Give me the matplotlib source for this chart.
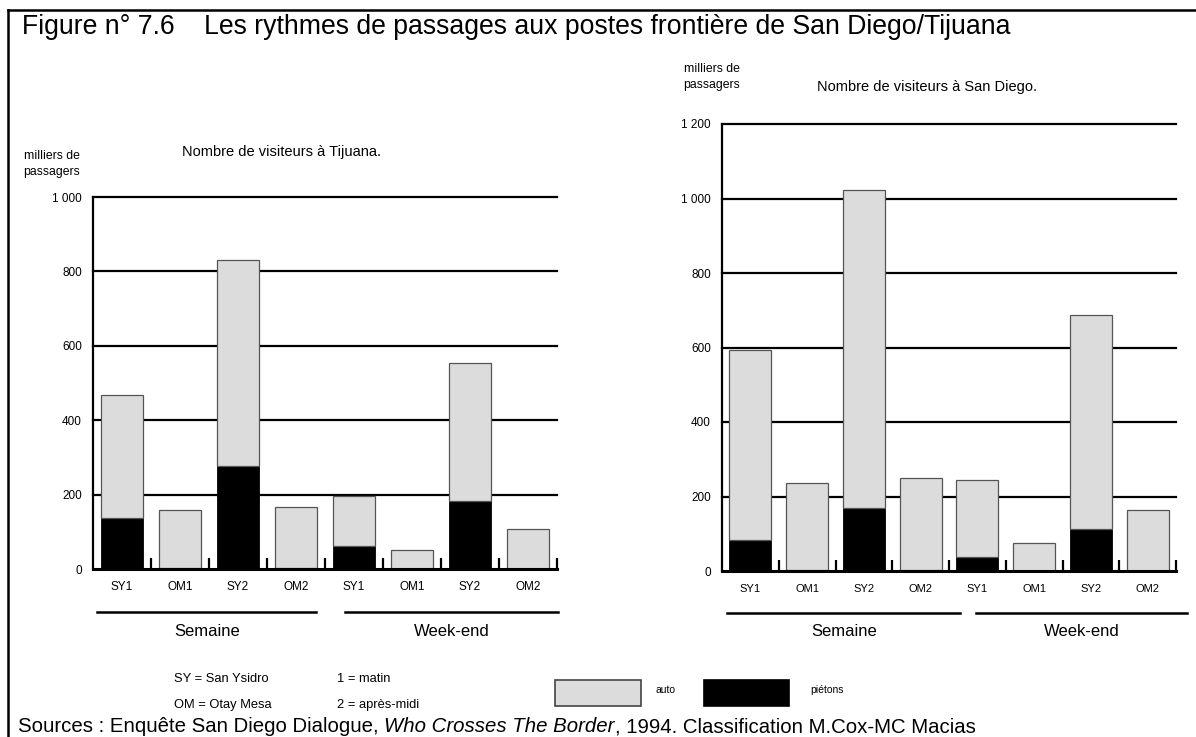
import matplotlib
matplotlib.use("Agg")
import matplotlib.pyplot as plt
from matplotlib.patches import Rectangle
from matplotlib.lines import Line2D
import matplotlib.transforms as mtransforms

plt.rcParams['font.family'] = ['Liberation Sans', 'DejaVu Sans']

# ---- data ----
categories = ["SY1", "OM1", "SY2", "OM2", "SY1", "OM1", "SY2", "OM2"]
groups = ["Semaine", "Week-end"]

tij_total = [467, 158, 831, 166, 196, 51, 553, 107]
tij_pietons = [137, 4, 278, 4, 62, 0, 184, 0]

sd_total = [592, 237, 1023, 249, 245, 75, 686, 163]
sd_pietons = [83, 3, 170, 3, 37, 0, 113, 0]

tij_ticks = [0, 200, 400, 600, 800, 1000]
tij_ticklabels = ["0", "200", "400", "600", "800", "1 000"]
sd_ticks = [0, 200, 400, 600, 800, 1000, 1200]
sd_ticklabels = ["0", "200", "400", "600", "800", "1 000", "1 200"]

W, H = 1196, 737
fig = plt.figure(figsize=(W / 100, H / 100), dpi=100)


def fx(x):
    return x / W


def fy(y):
    return 1 - y / H


GRAY = "#dcdcdc"


def draw_chart(ax, totals, peds, ticks, ticklabels, xlab_size):
    n = len(totals)
    x = list(range(n))
    autos = [t - p for t, p in zip(totals, peds)]
    top = ticks[-1]
    ax.set_xlim(-0.5, n - 0.5)
    ax.set_ylim(0, top)
    for t in ticks[1:]:
        ax.axhline(t, color="black", lw=1.6, zorder=1, clip_on=False)
    ax.bar(x, peds, width=0.74, color="black", edgecolor="black", lw=0.6, zorder=3)
    ax.bar(x, autos, bottom=peds, width=0.74, color=GRAY, edgecolor="#555555", lw=0.9, zorder=3)
    for s in ["top", "right"]:
        ax.spines[s].set_visible(False)
    ax.spines["left"].set_linewidth(1.6)
    ax.spines["bottom"].set_linewidth(2.2)
    ax.spines["left"].set_zorder(4)
    ax.spines["bottom"].set_zorder(4)
    ax.set_yticks(ticks)
    ax.set_yticklabels(ticklabels, fontsize=8.5)
    ax.tick_params(axis="y", length=0, pad=8)
    ax.set_xticks([i + 0.5 for i in range(n)])
    ax.set_xticklabels([])
    ax.tick_params(axis="x", which="major", direction="in", length=8, width=1.6)
    ax.set_xticks(x, minor=True)
    ax.set_xticklabels(categories, minor=True, fontsize=xlab_size)
    ax.tick_params(axis="x", which="minor", length=0, pad=9)
    ax.patch.set_alpha(0)


# ---- left chart ----
axL = fig.add_axes([fx(93), fy(569), fx(557) - fx(93), fy(197) - fy(569)])
draw_chart(axL, tij_total, tij_pietons, tij_ticks, tij_ticklabels, 8.5)

# ---- right chart ----
axR = fig.add_axes([fx(722), fy(571), fx(1176) - fx(722), fy(124) - fy(571)])
draw_chart(axR, sd_total, sd_pietons, sd_ticks, sd_ticklabels, 8)


def group_lines(ax, spans, yline, ytext):
    trans = mtransforms.blended_transform_factory(ax.transData, fig.transFigure)
    for name, (a, b) in zip(groups, spans):
        fig.add_artist(Line2D([a, b], [fy(yline), fy(yline)], transform=trans,
                              color="black", lw=1.8))
        fig.text((a + b) / 2, fy(ytext), name, transform=trans, ha="center",
                 va="center", fontsize=12)


group_lines(axL, [(-0.43, 3.35), (3.85, 7.52)], 612, 632)
group_lines(axR, [(-0.41, 3.7), (3.97, 7.7)], 613, 631)

# ---- titles and labels ----
fig.text(fx(22), fy(27), "Figure n° 7.6    Les rythmes de passages aux postes frontière de San Diego/Tijuana",
         fontsize=19.2, va="center", ha="left")
fig.text(fx(182), fy(152), "Nombre de visiteurs à Tijuana.", fontsize=10.5, va="center")
fig.text(fx(817), fy(87), "Nombre de visiteurs à San Diego.", fontsize=10.5, va="center")
fig.text(fx(52), fy(164), "milliers de\npassagers", fontsize=8.8, ha="center", va="center",
         linespacing=1.45)
fig.text(fx(712), fy(77), "milliers de\npassagers", fontsize=8.8, ha="center", va="center",
         linespacing=1.45)

# ---- legend ----
fig.text(fx(174), fy(679), "SY = San Ysidro", fontsize=9.3, va="center")
fig.text(fx(174), fy(705), "OM = Otay Mesa", fontsize=9.3, va="center")
fig.text(fx(337), fy(679), "1 = matin", fontsize=9.3, va="center")
fig.text(fx(337), fy(705), "2 = après-midi", fontsize=9.3, va="center")
fig.add_artist(Rectangle((fx(555), fy(706)), fx(641) - fx(555), fy(680) - fy(706),
                         transform=fig.transFigure, facecolor=GRAY, edgecolor="#444444", lw=1.2))
fig.text(fx(655), fy(690), "auto", fontsize=7.5, va="center")
fig.add_artist(Rectangle((fx(704), fy(706)), fx(789) - fx(704), fy(680) - fy(706),
                         transform=fig.transFigure, facecolor="black", edgecolor="black", lw=1.2))
fig.text(fx(810), fy(690), "piétons", fontsize=7.5, va="center")

# ---- sources ----
SRC_FS = 14.7
t1 = fig.text(fx(18), fy(727), "Sources : Enquête San Diego Dialogue, ", fontsize=SRC_FS, va="center")
fig.canvas.draw()
r = fig.canvas.get_renderer()
bb = t1.get_window_extent(r)
t2 = fig.text(bb.x1 / W, fy(727), "Who Crosses The Border", fontsize=SRC_FS, va="center", style="italic")
bb2 = t2.get_window_extent(r)
fig.text(bb2.x1 / W, fy(727), ", 1994. Classification M.Cox-MC Macias", fontsize=SRC_FS, va="center")

# ---- frame ----
fig.add_artist(Line2D([fx(8), 1], [fy(10), fy(10)], transform=fig.transFigure, color="black", lw=1.8))
fig.add_artist(Line2D([fx(8), fx(8)], [fy(10), 0], transform=fig.transFigure, color="black", lw=1.8))

fig.savefig("out.png", dpi=100)
